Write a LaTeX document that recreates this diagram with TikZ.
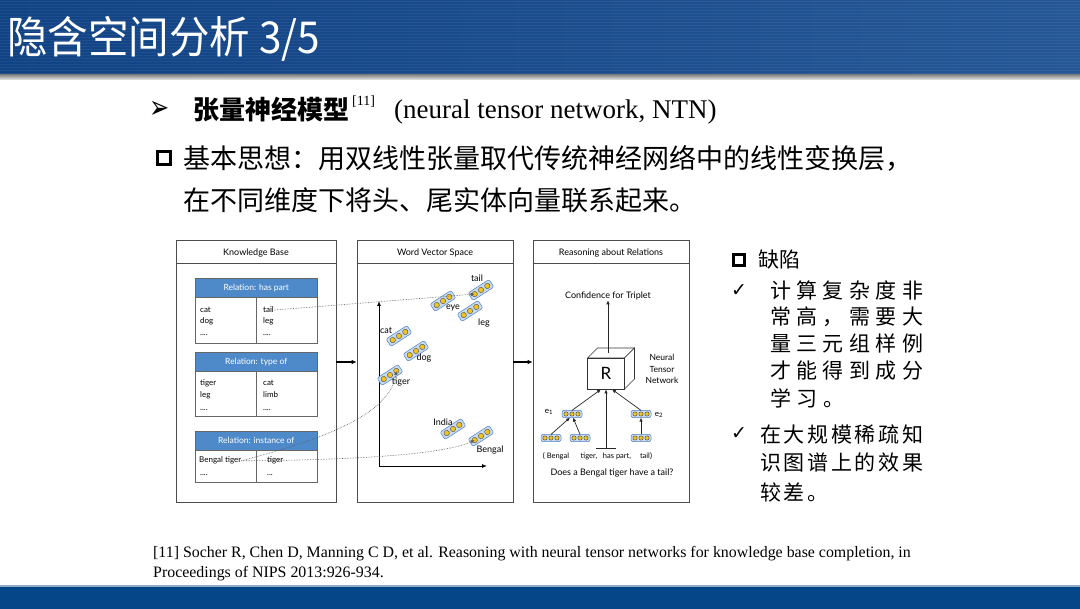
\documentclass[tikz,border=0pt]{standalone}
\usepackage{fontspec}
\usetikzlibrary{arrows.meta}
\setmainfont{Liberation Serif}
\newfontfamily\cjk{Noto Sans CJK SC}
\newfontfamily\lato{Lato}
\newfontfamily\djv{DejaVu Sans}
\newcommand{\fsz}[1]{\fontsize{#1}{#1}\selectfont}
\definecolor{barblue}{RGB}{16,66,132}
\definecolor{barblue2}{RGB}{38,88,152}
\definecolor{botblue}{RGB}{5,70,136}
\definecolor{relblue}{RGB}{78,138,202}
\definecolor{vecfill}{RGB}{200,218,242}
\definecolor{vecdraw}{RGB}{80,130,200}
\definecolor{dotyel}{RGB}{240,196,30}
\tikzset{
  panel/.style={draw=black!70, line width=0.6pt, minimum width=#1, minimum height=262pt, inner sep=0pt},
  ptitle/.style={font=\lato\fsz{9}, inner sep=0pt},
  hdr/.style={draw=black!60, fill=relblue, text=white, font=\lato\fsz{8.5}, minimum width=122pt, minimum height=19pt, inner sep=0pt, line width=0.5pt},
  cellbox/.style={draw=black!60, minimum width=122pt, inner sep=0pt, line width=0.5pt},
  cell/.style={font=\lato\fsz{8}, inner sep=0pt, anchor=base west},
  lbl/.style={font=\lato\fsz{9}, inner sep=0pt},
  link/.style={densely dotted, black!65, line width=0.6pt, -{Latex[length=4pt,width=3.5pt]}},
  bigarrow/.style={line width=1.3pt, -{Latex[length=5pt,width=4.5pt]}},
  thinarrow/.style={line width=0.7pt, black!85, -{Latex[length=4pt,width=3.5pt]}},
  cjkt/.style={font=\cjk\fsz{27}, inner sep=0pt, anchor=west},
  cjkr/.style={font=\cjk\fsz{21}, inner sep=0pt, anchor=west},
  sq/.style={draw=black, line width=2.4pt, minimum size=13pt, inner sep=0pt},
  chk/.style={font=\djv\fsz{19}, inner sep=0pt},
  wv/.pic={
    \draw[draw=vecdraw, fill=vecfill, line width=0.5pt, rounded corners=2pt] (-12.5,-4.5) rectangle (12.5,4.5);
    \foreach \i in {-7.5,0,7.5} \draw[draw=black!70, fill=dotyel, line width=0.4pt] (\i,0) circle (2.7);
    \coordinate (-c) at (0,0);
    \coordinate (-l) at (-7.5,0);
    \coordinate (-r) at (7.5,0);
    \coordinate (-n) at (0,-4.5);
    \coordinate (-s) at (0,4.5);
  }
}
\begin{document}
\begin{tikzpicture}[x=1pt,y=-1pt]
\useasboundingbox (0,0) rectangle (1080,609);
\fill[white] (0,0) rectangle (1080,609);
% header
\shade[left color=barblue, right color=barblue2] (0,0) rectangle (1080,75);
\foreach \k in {0,...,24} \fill[white, opacity=0.06] (0,{\k*3+1}) rectangle (1080,{\k*3+2});
\shade[top color=black!45, bottom color=black!8] (0,75) rectangle (1080,80);
\node[anchor=west, inner sep=0pt, text=white, font=\cjk\fsz{44}] (title) at (7,39) {\scalebox{0.92}[1]{隐含空间分析 3/5}};
% footer bar
\fill[botblue!45] (0,585) rectangle (1080,587);
\fill[botblue] (0,587) rectangle (1080,609);

% line 1
\node[font=\djv\bfseries\fsz{24}, inner sep=0pt] (arrowb) at (160,110) {\scalebox{1}[1.35]{➢}};
\node[anchor=west, inner sep=0pt, font=\cjk\bfseries\fsz{26}] (l1) at (193,110) {张量神经模型};
\node[anchor=base west, inner sep=0pt, font=\fsz{14}] (ref11) at (352,106) {[11]};
\node[anchor=base west, inner sep=0pt, font=\fsz{27}] (ntn) at (394,119) {(neural tensor network, NTN)};
% line 2,3
\node[sq] (sq1) at (164,158) {};
\node[cjkt] (l2) at (183,158) {基本思想：用双线性张量取代传统神经网络中的线性变换层，};
\node[cjkt] (l3) at (183,200) {在不同维度下将头、尾实体向量联系起来。};

% right text
\node[sq, minimum size=11pt, line width=2.2pt] (sq2) at (739,260) {};
\node[cjkr] (qx) at (758,260) {缺陷};
\node[chk] (ck1) at (739,291) {✓};
\node[cjkr] (r1) at (770,290) {\makebox[153pt][l]{计\hfill 算\hfill 复\hfill 杂\hfill 度\hfill 非}};
\node[cjkr] (r2) at (770,317) {\makebox[153pt][l]{常\hfill 高\hfill ，\hfill 需\hfill 要\hfill 大}};
\node[cjkr] (r3) at (770,344) {\makebox[153pt][l]{量\hfill 三\hfill 元\hfill 组\hfill 样\hfill 例}};
\node[cjkr] (r4) at (770,371) {\makebox[153pt][l]{才\hfill 能\hfill 得\hfill 到\hfill 成\hfill 分}};
\node[cjkr] (r5) at (770,398) {\makebox[74pt][l]{学\hfill 习\hfill 。}};
\node[chk] (ck2) at (739,434) {✓};
\node[cjkr] (s1) at (760,434) {\makebox[163pt][l]{在\hfill 大\hfill 规\hfill 模\hfill 稀\hfill 疏\hfill 知}};
\node[cjkr] (s2) at (760,463) {\makebox[163pt][l]{识\hfill 图\hfill 谱\hfill 上\hfill 的\hfill 效\hfill 果}};
\node[cjkr] (s3) at (760,492) {\makebox[68pt][l]{较\hfill 差\hfill 。}};

% footer text
\node[anchor=base west, inner sep=0pt, font=\fsz{15.9}] (f1) at (153,558) {[11] Socher R, Chen D, Manning C D, et al. Reasoning with neural tensor networks for knowledge base completion, in};
\node[anchor=base west, inner sep=0pt, font=\fsz{15.9}] (f2) at (153,578) {Proceedings of NIPS 2013:926-934.};

% panels
\node[panel=160pt] (p1) at (256,371) {};
\node[panel=156pt] (p2) at (435,371) {};
\node[panel=156pt] (p3) at (611,371) {};
\foreach \p in {p1,p2,p3}
  \draw[black!70, line width=0.6pt] ([yshift=-24pt]\p.north west) -- ([yshift=-24pt]\p.north east);
\node[ptitle] (p1t) at (256,253) {Knowledge Base};
\node[ptitle] (p2t) at (435,253) {Word Vector Space};
\node[ptitle] (p3t) at (611,253) {Reasoning about Relations};
\draw[bigarrow] ([yshift=9pt]p1.east) -- ([yshift=9pt]p2.west);
\draw[bigarrow] ([yshift=9pt]p2.east) -- ([yshift=9pt]p3.west);

% tables
\node[hdr, anchor=north west] (t1h) at (195,278) {Relation: has part};
\node[cellbox, minimum height=46pt, anchor=north] (t1b) at (t1h.south) {};
\draw[black!60, line width=0.5pt] (t1b.north) -- (t1b.south);
\node[cell] (c11) at (200,313) {cat};
\node[cell] (c12) at (200,324) {dog};
\node[cell] (c13) at (200,336) {....};
\node[cell] (c14) at (263,313) {tail};
\node[cell] (c15) at (263,324) {leg};
\node[cell] (c16) at (263,336) {....};

\node[hdr, anchor=north west] (t2h) at (195,352) {Relation: type of};
\node[cellbox, minimum height=45pt, anchor=north] (t2b) at (t2h.south) {};
\draw[black!60, line width=0.5pt] (t2b.north) -- (t2b.south);
\node[cell] (c21) at (200,386) {tiger};
\node[cell] (c22) at (200,398) {leg};
\node[cell] (c23) at (200,411) {....};
\node[cell] (c24) at (263,386) {cat};
\node[cell] (c25) at (263,398) {limb};
\node[cell] (c26) at (263,411) {....};

\node[hdr, anchor=north west] (t3h) at (195,431) {Relation: instance of};
\node[cellbox, minimum height=32pt, anchor=north] (t3b) at (t3h.south) {};
\draw[black!60, line width=0.5pt] (t3b.north) -- (t3b.south);
\node[cell] (c31) at (199,463) {Bengal tiger};
\node[cell] (c32) at (200,476) {....};
\node[cell] (c33) at (267,463) {tiger};
\node[cell] (c34) at (267,476) {...};

% word vector space
\coordinate (o) at (379,466);
\coordinate (ytop) at (379,301);
\coordinate (xend) at (487,466);
\draw[line width=0.9pt, -{Latex[length=5pt,width=4pt]}] (o) -- (ytop);
\draw[line width=0.9pt, -{Latex[length=5pt,width=4pt]}] (o) -- (xend);

\pic[rotate=33] (tailv) at (481,290) {wv};
\pic[rotate=33] (eyev) at (443,301) {wv};
\pic[rotate=33] (legv) at (470,311) {wv};
\pic[rotate=33] (catv) at (399,336) {wv};
\pic[rotate=33] (dogv) at (416,351) {wv};
\pic[rotate=33] (tigerv) at (390,375) {wv};
\pic[rotate=33] (indiav) at (453,429) {wv};
\pic[rotate=33] (bengalv) at (481,436) {wv};
\node[lbl] (ltail) at (477,278) {tail};
\node[lbl] (leye) at (453,308) {eye};
\node[lbl] (lleg) at (484,323) {leg};
\node[lbl] (lcat) at (386,331) {cat};
\node[lbl] (ldog) at (424,358) {dog};
\node[lbl] (ltiger) at (401,382) {tiger};
\node[lbl] (lindia) at (443,422) {India};
\node[lbl] (lbengal) at (490,450) {Bengal};

% links
\draw[link] (c14.east) -- (tailv-l);
\draw[link] (c31.east) .. controls (300,445) and (390,420) .. (tigerv-r);
\draw[link] (c31.east) .. controls (380,460) and (450,452) .. (bengalv-l);

% reasoning panel
\node[font=\lato\fsz{9}, inner sep=0pt] (conf) at (608,296) {Confidence for Triplet};
\draw[black!80, line width=0.7pt, fill=white] (587.5,358) -- ++(10,-10) -- ++(37,0) -- ++(-10,10) -- cycle;
\draw[black!80, line width=0.7pt, fill=white] (624.5,358) -- ++(10,-10) -- ++(0,31) -- ++(-10,10) -- cycle;
\node[draw=black!80, fill=white, line width=0.7pt, minimum width=37pt, minimum height=31pt, inner sep=0pt, font=\lato\fsz{17}] (R) at (606,373.5) {R};
\draw[thinarrow] ([shift={(2,-5)}]R.north) -- (conf.south);
\node[font=\lato\fontsize{8.5}{11.5}\selectfont, align=center, inner sep=0pt] (ntnl) at (662,369) {Neural\\Tensor\\Network};

\pic[scale=0.8] (e1v) at (572,414) {wv};
\pic[scale=0.8] (e2v) at (641,414) {wv};
\pic[scale=0.8] (b1v) at (551,438) {wv};
\pic[scale=0.8] (b2v) at (580,438) {wv};
\pic[scale=0.8] (b3v) at (641,438) {wv};
\node[font=\lato\fsz{8}, inner sep=0pt] (e1l) at (549,412) {e\textsubscript{1}};
\node[font=\lato\fsz{8}, inner sep=0pt] (e2l) at (659,415) {e\textsubscript{2}};
\coordinate (tb) at (606,448);
\draw[line width=0.7pt, black!85] ([xshift=-10pt]tb) -- ([xshift=10pt]tb);
\draw[thinarrow] (tb) -- (R.south);
\draw[thinarrow] (b1v-n) -- ([xshift=-2pt]e1v-s);
\draw[thinarrow] (b2v-n) -- ([xshift=1pt]e1v-s);
\draw[thinarrow] (b3v-n) -- (e2v-s);
\draw[thinarrow] (e1v-n) -- ([xshift=-5pt]R.south);
\draw[thinarrow] (e2v-n) -- ([xshift=6pt]R.south);
\node[font=\lato\fsz{7.5}, inner sep=0pt] (tu1) at (556,456) {( Bengal};
\node[font=\lato\fsz{7.5}, inner sep=0pt] (tu2) at (589,456) {tiger,};
\node[font=\lato\fsz{7.5}, inner sep=0pt] (tu3) at (617,456) {has part,};
\node[font=\lato\fsz{7.5}, inner sep=0pt] (tu4) at (646,456) {tail)};
\node[font=\lato\fsz{9}, inner sep=0pt] (q) at (612,473) {Does a Bengal tiger have a tail?};
\end{tikzpicture}
\end{document}
